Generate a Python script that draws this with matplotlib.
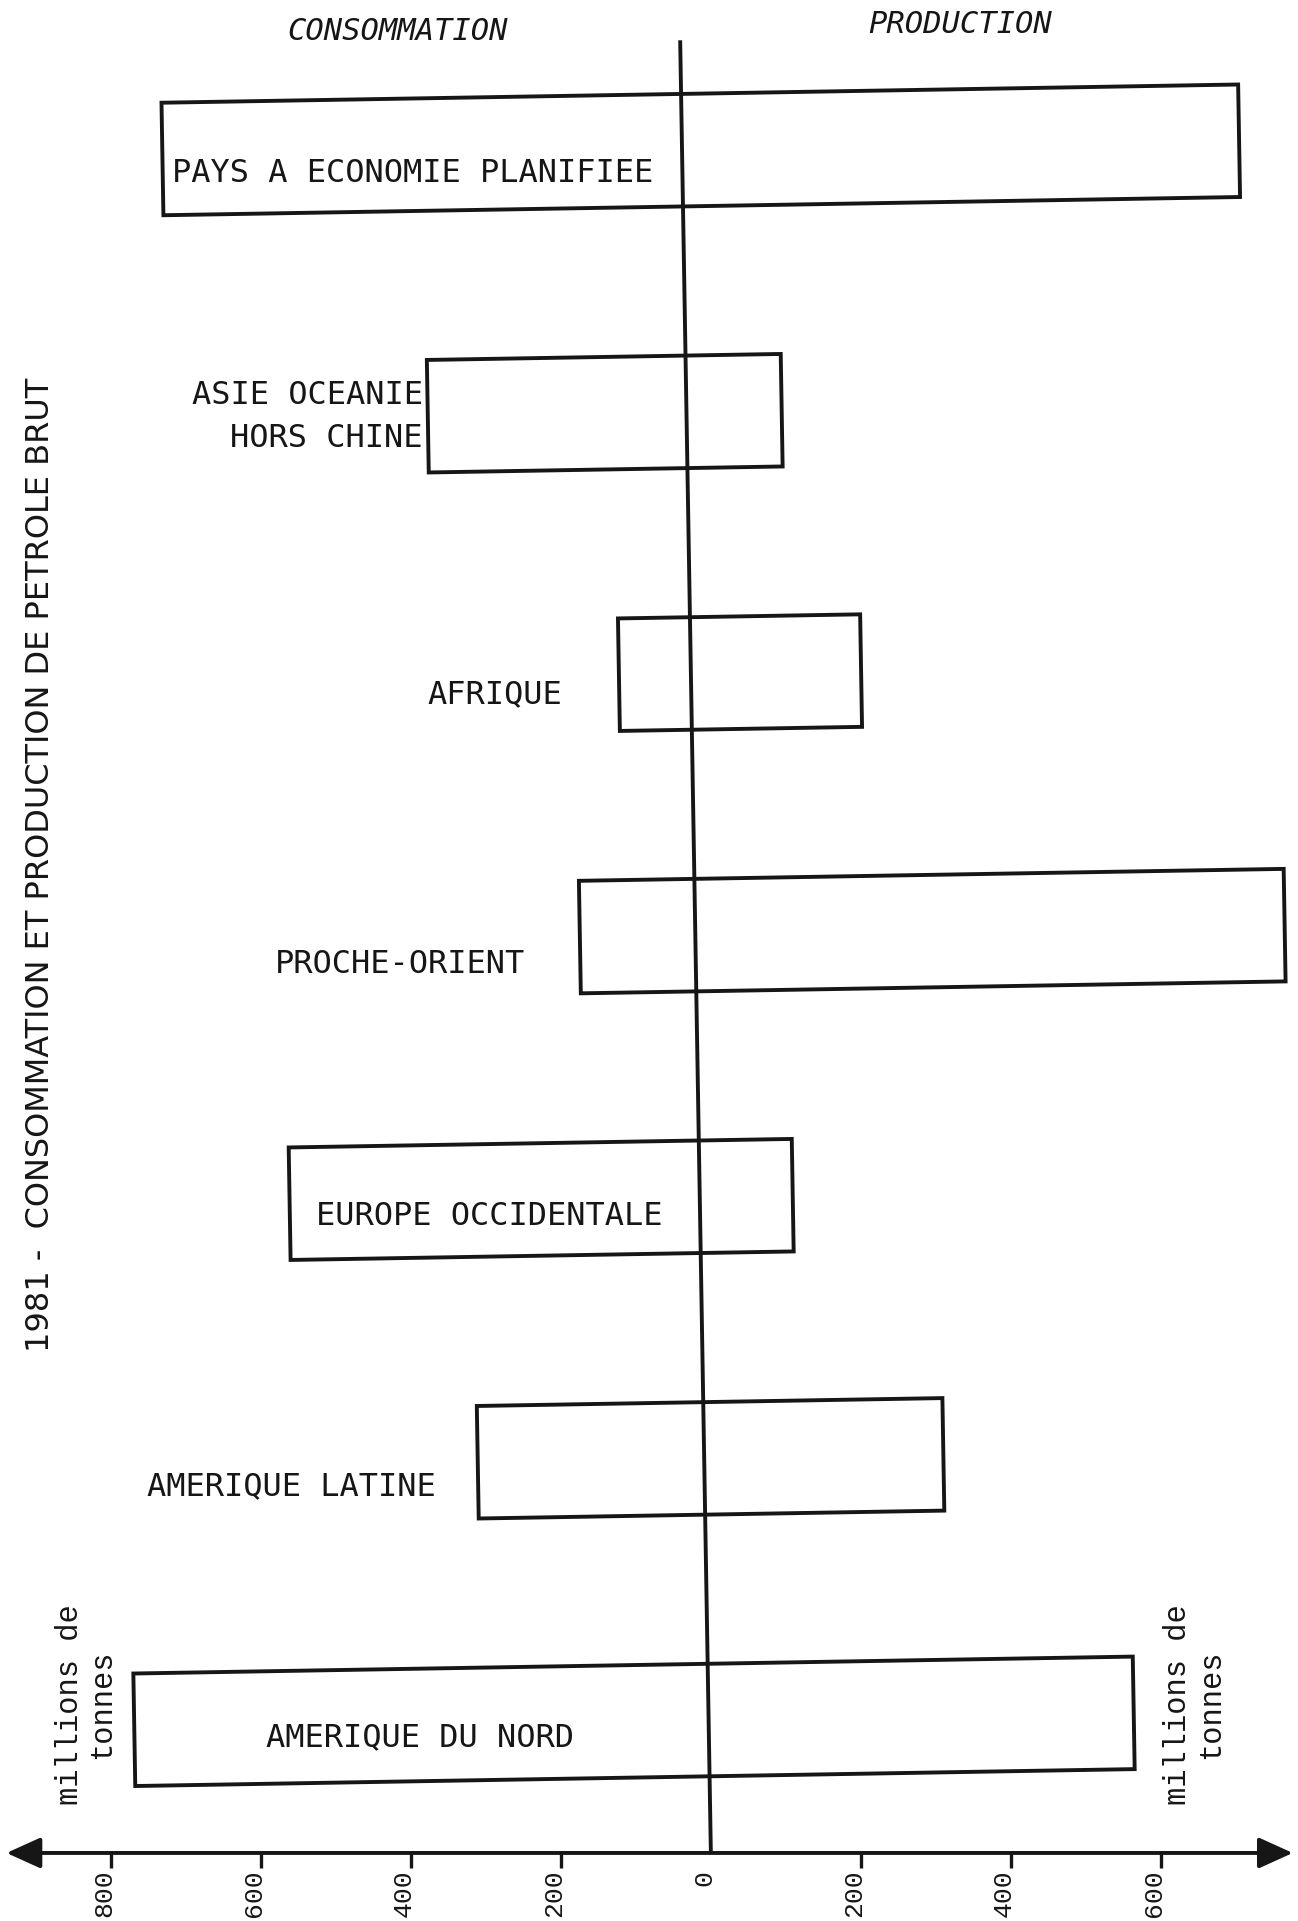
import matplotlib
matplotlib.use("Agg")
import matplotlib.pyplot as plt
from matplotlib import font_manager
from matplotlib.transforms import Affine2D, ScaledTranslation
import numpy as np

# donnees (millions de tonnes, 1981)
regions = ["PAYS A ECONOMIE PLANIFIEE", "ASIE OCEANIE\nHORS CHINE", "AFRIQUE",
           "PROCHE-ORIENT", "EUROPE OCCIDENTALE", "AMERIQUE LATINE", "AMERIQUE DU NORD"]
consommation = [693, 345, 96, 154, 547, 302, 766]
production = [743, 127, 227, 786, 124, 319, 567]

tick_values = [-800, -600, -400, -200, 0, 200, 400, 600]
tick_labels = ["800", "600", "400", "200", "0", "200", "400", "600"]

INK = "#161616"

installed = {f.name for f in font_manager.fontManager.ttflist}
if "Liberation Sans Narrow" in installed:
    title_font, title_size = "Liberation Sans Narrow", 27
else:
    title_font, title_size = "DejaVu Sans", 23

fig = plt.figure(figsize=(12.98, 19.21), dpi=100)
fig.patch.set_facecolor("white")
ax = fig.add_axes([0, 0, 1, 1])

y = np.arange(len(regions))[::-1]
cons = np.array(consommation)
prod = np.array(production)

# une barre par region, de -consommation a +production
bars = ax.barh(y, cons + prod, left=-cons, height=0.43, fill=False,
               edgecolor=INK, linewidth=2.8)

ax.set_xlim(-948, 783)
ax.set_ylim(-0.768, 6.573)
axis_y = -0.508

# la feuille scannee est legerement tournee : on tourne le dessin autour
# du croisement des axes
px, py = ax.transData.transform((0, axis_y))
tilt = ax.transData + Affine2D().rotate_deg_around(px, py, 0.97)
for b in bars:
    b.set_transform(tilt)

# axe horizontal avec fleches
for s in ["top", "right", "left", "bottom"]:
    ax.spines[s].set_visible(False)
ax.spines["bottom"].set_position(("data", axis_y))
ax.yaxis.set_visible(False)
ax.set_xticks(tick_values)
ax.set_xticklabels(tick_labels, rotation=90, fontsize=19,
                   family="Liberation Mono", color=INK)
ax.tick_params(axis="x", direction="out", length=11, width=2.4,
               color=INK, pad=1)
ax.xaxis.get_major_ticks()[4].tick1line.set_visible(False)
shift = ScaledTranslation(-5 / 72, 0, fig.dpi_scale_trans)
for t in ax.get_xticklabels():
    t.set_transform(t.get_transform() + shift)

axis_frac = (axis_y - ax.get_ylim()[0]) / (ax.get_ylim()[1] - ax.get_ylim()[0])
ax.annotate("", xy=(0.996, axis_frac), xytext=(0.005, axis_frac),
            xycoords="axes fraction", textcoords="axes fraction",
            arrowprops=dict(arrowstyle="<|-|>,head_length=2.1,head_width=0.95",
                            lw=2.8, color=INK, shrinkA=0, shrinkB=0))

# axe vertical
ax.plot([0, 0], [axis_y, 6.42], color=INK, lw=2.8, solid_capstyle="butt",
        transform=tilt)

# noms des regions
lab = dict(fontsize=23, family="DejaVu Sans Mono", color=INK, va="center")
ax.text(-719, 5.91, regions[0], ha="left", **lab)
ax.text(-384, 4.98, regions[1], ha="right", multialignment="right",
        linespacing=1.5, **lab)
ax.text(-378, 3.92, regions[2], ha="left", **lab)
ax.text(-582, 2.887, regions[3], ha="left", **lab)
ax.text(-526, 1.923, regions[4], ha="left", **lab)
ax.text(-752, 0.891, regions[5], ha="left", **lab)
ax.text(-593, -0.069, regions[6], ha="left", **lab)

# en-tetes
head = dict(fontsize=22, family="DejaVu Sans Mono", style="italic",
            color=INK, ha="center", va="center")
ax.text(-418, 6.451, "CONSOMMATION", **head)
ax.text(332, 6.48, "PRODUCTION", **head)

# titre vertical
ax.text(-894, 3.268, "1981 -  CONSOMMATION ET PRODUCTION DE PETROLE BRUT",
        rotation=90, ha="center", va="center", fontsize=title_size,
        family=title_font, color=INK)

# unites
unit = dict(rotation=90, ha="center", va="center", fontsize=22,
            family="Liberation Mono", color=INK, multialignment="center",
            linespacing=1.1)
ax.text(-833, 0.06, "millions de\ntonnes", **unit)
ax.text(645, 0.06, "millions de\ntonnes", **unit)

fig.savefig("out.png", dpi=100, facecolor="white")
